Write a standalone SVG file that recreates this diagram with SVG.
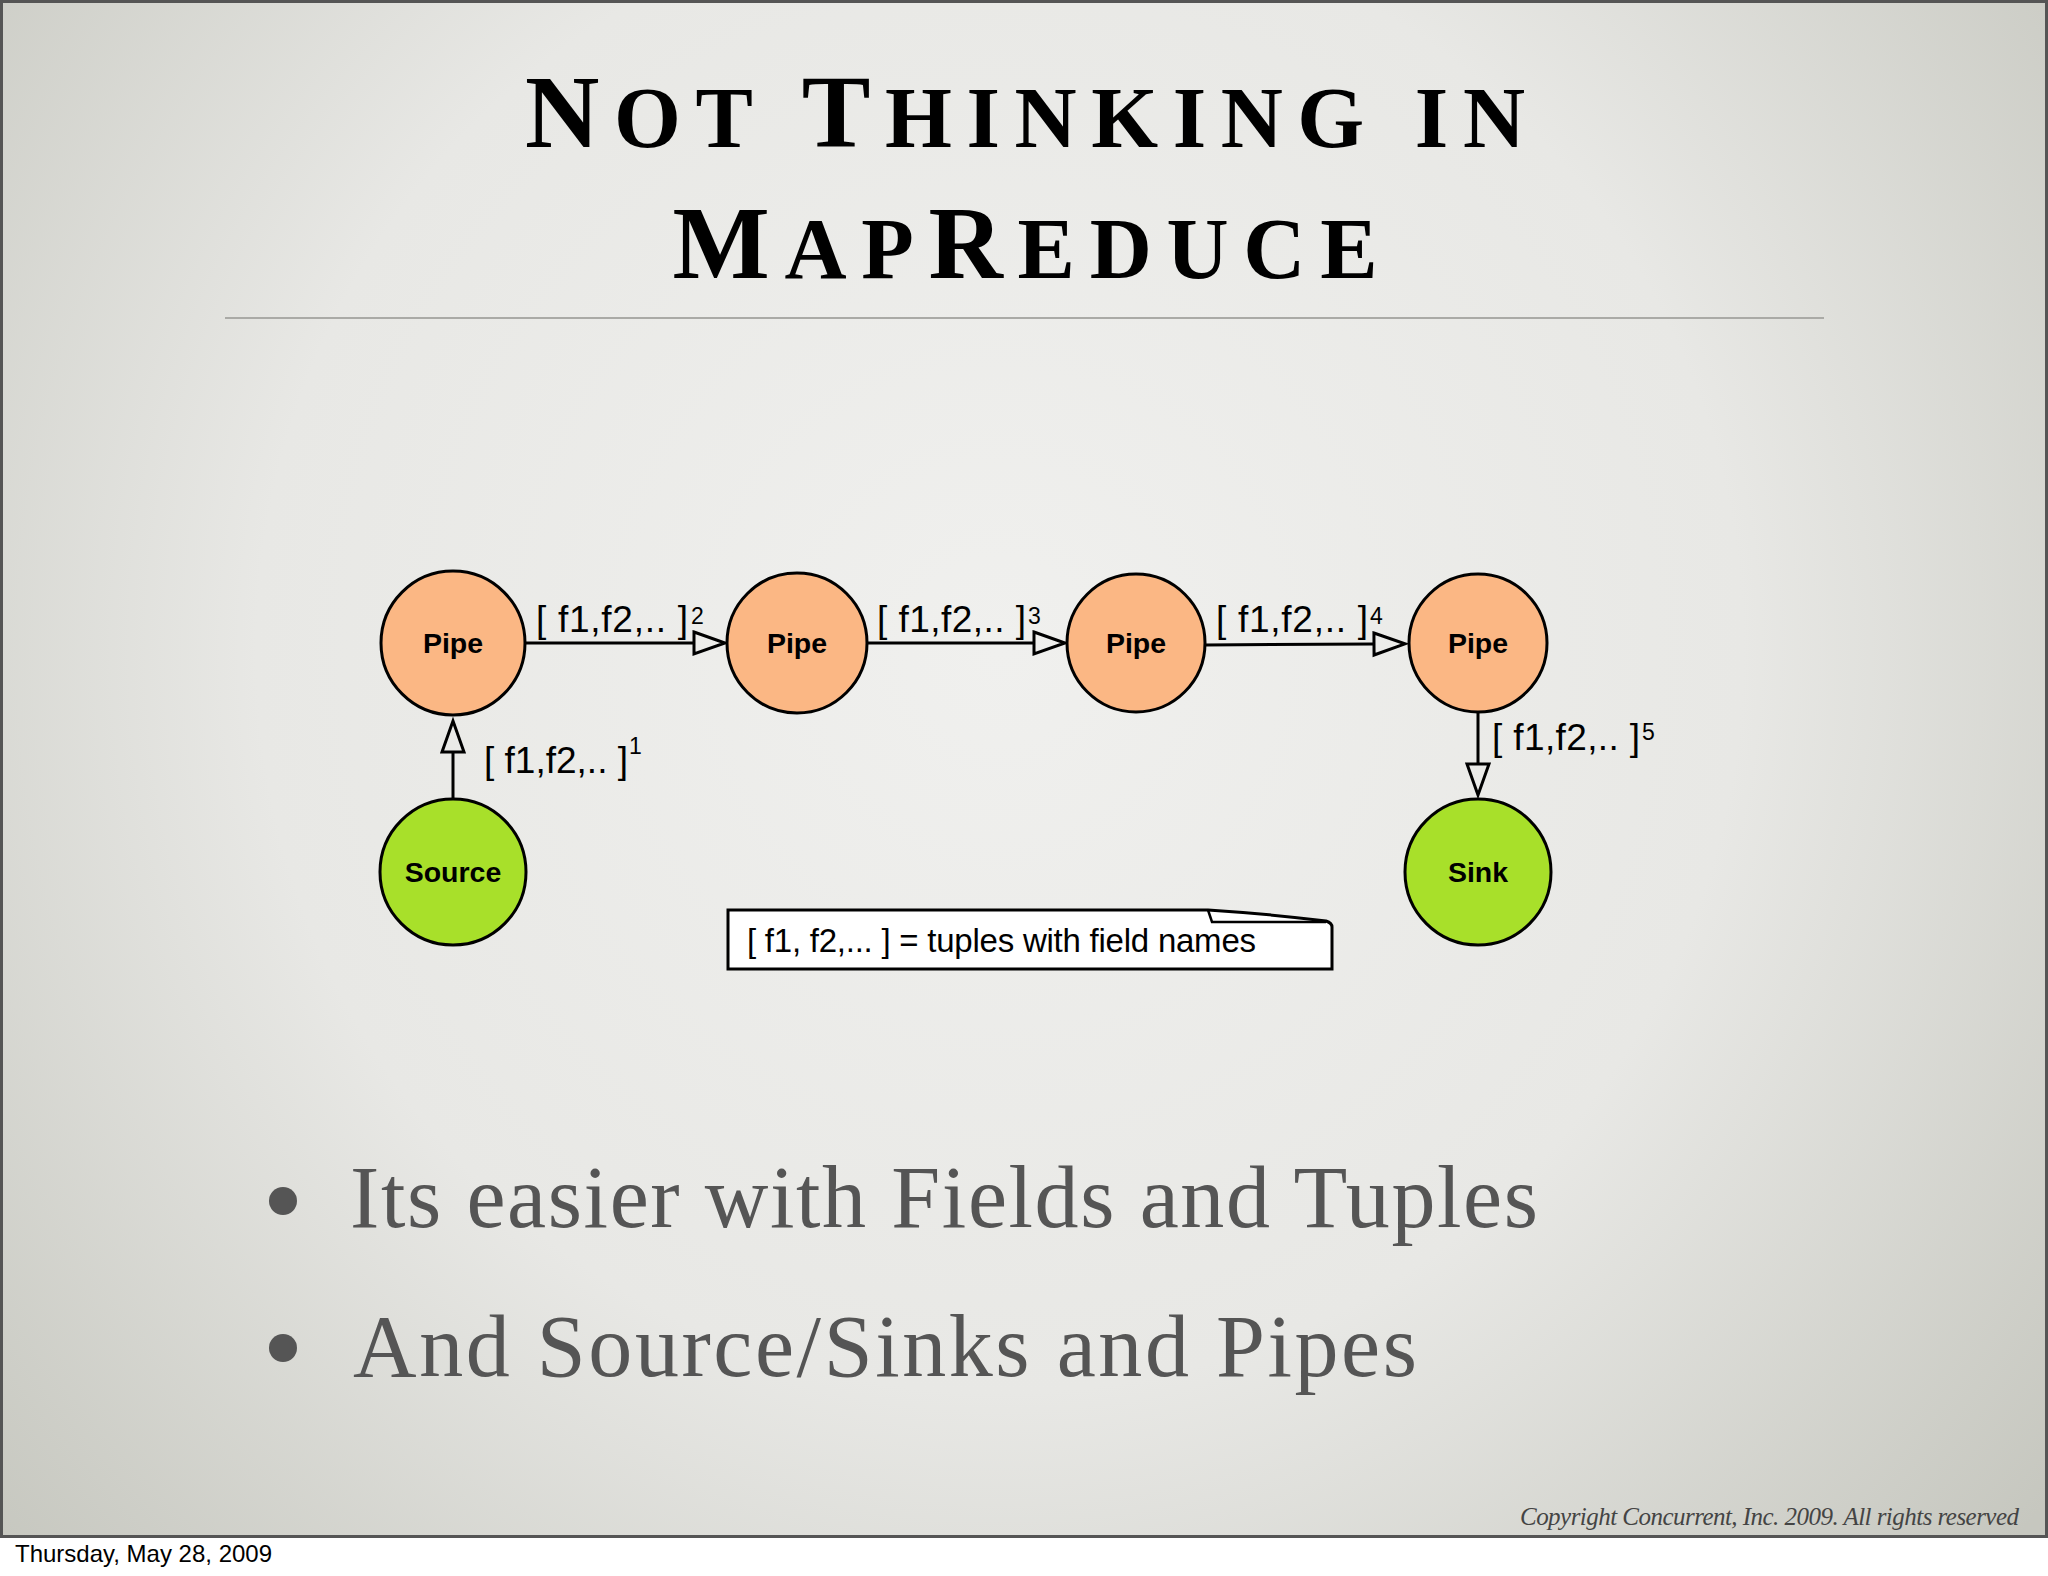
<svg xmlns="http://www.w3.org/2000/svg" width="2048" height="1576" viewBox="0 0 2048 1576">
  <defs>
    <radialGradient id="bg" gradientUnits="userSpaceOnUse" cx="1000" cy="650" r="1350">
      <stop offset="0" stop-color="#f0f0ee"/>
      <stop offset="0.55" stop-color="#e8e8e5"/>
      <stop offset="1" stop-color="#c6c7bf"/>
    </radialGradient>
    <marker id="tri" markerUnits="userSpaceOnUse" markerWidth="40" markerHeight="30" refX="0" refY="12" orient="auto" overflow="visible">
      <path d="M0,1 L31,12 L0,23 Z" fill="none" stroke="#000" stroke-width="3" stroke-linejoin="miter"/>
    </marker>
    <style>
      .title { font-family: "Liberation Serif", serif; font-weight: bold; fill: #000; }
      .node { stroke: #000; stroke-width: 3; }
      .pipe { fill: #fbb784; }
      .end { fill: #a8e02a; }
      .nlabel { font-family: "Liberation Sans", Arial, sans-serif; font-weight: bold; font-size: 28.5px; fill: #000; text-anchor: middle; }
      .elabel { font-family: "Liberation Sans", Arial, sans-serif; font-size: 37px; fill: #000; }
      .legend { font-family: "Liberation Sans", Arial, sans-serif; font-size: 33px; fill: #000; }
      .sup { font-family: "Liberation Sans", Arial, sans-serif; font-size: 23px; fill: #000; }
      .edge { stroke: #000; stroke-width: 3; fill: none; marker-end: url(#tri); }
      .bullet { font-family: "Liberation Serif", serif; font-size: 88px; fill: #555; }
    </style>
  </defs>

  <!-- background -->
  <rect x="0" y="0" width="2048" height="1576" fill="#ffffff"/>
  <rect x="1.5" y="1.5" width="2045" height="1535" fill="url(#bg)" stroke="#555" stroke-width="3"/>

  <!-- title -->
  <text class="title" x="1025" y="147" text-anchor="middle" textLength="1000" lengthAdjust="spacing"><tspan font-size="103">N</tspan><tspan font-size="86">OT </tspan><tspan font-size="103">T</tspan><tspan font-size="86">HINKING IN</tspan></text>
  <text class="title" x="1025" y="278" text-anchor="middle" textLength="705" lengthAdjust="spacing"><tspan font-size="103">M</tspan><tspan font-size="86">AP</tspan><tspan font-size="103">R</tspan><tspan font-size="86">EDUCE</tspan></text>
  <line x1="225" y1="318" x2="1824" y2="318" stroke="#aaaaa6" stroke-width="2"/>

  <!-- connectors -->
  <g id="connectors">
    <line class="edge" x1="453" y1="799" x2="453" y2="752"/>
    <line class="edge" x1="525" y1="643" x2="694" y2="643"/>
    <line class="edge" x1="867" y1="643" x2="1034" y2="643"/>
    <line class="edge" x1="1205" y1="645" x2="1374" y2="644"/>
    <line class="edge" x1="1478" y1="713" x2="1478" y2="764"/>
    <text class="elabel" x="484" y="773" textLength="144" lengthAdjust="spacing">[ f1,f2,.. ]</text><text class="sup" x="629" y="754">1</text>
    <text class="elabel" x="536" y="632" textLength="152" lengthAdjust="spacing">[ f1,f2,.. ]</text><text class="sup" x="691" y="624">2</text>
    <text class="elabel" x="877" y="632" textLength="149" lengthAdjust="spacing">[ f1,f2,.. ]</text><text class="sup" x="1028" y="624">3</text>
    <text class="elabel" x="1216" y="632" textLength="152" lengthAdjust="spacing">[ f1,f2,.. ]</text><text class="sup" x="1370" y="624">4</text>
    <text class="elabel" x="1492" y="750" textLength="148" lengthAdjust="spacing">[ f1,f2,.. ]</text><text class="sup" x="1642" y="740">5</text>
  </g>

  <!-- nodes -->
  <g id="pipe1"><circle class="node pipe" cx="453" cy="643" r="72"/><text class="nlabel" x="453" y="653">Pipe</text></g>
  <g id="pipe2"><circle class="node pipe" cx="797" cy="643" r="70"/><text class="nlabel" x="797" y="653">Pipe</text></g>
  <g id="pipe3"><circle class="node pipe" cx="1136" cy="643" r="69"/><text class="nlabel" x="1136" y="653">Pipe</text></g>
  <g id="pipe4"><circle class="node pipe" cx="1478" cy="643" r="69"/><text class="nlabel" x="1478" y="653">Pipe</text></g>
  <g id="source"><circle class="node end" cx="453" cy="872" r="73"/><text class="nlabel" x="453" y="882">Source</text></g>
  <g id="sink"><circle class="node end" cx="1478" cy="872" r="73"/><text class="nlabel" x="1478" y="882">Sink</text></g>

  <!-- legend note -->
  <g id="legend">
    <path d="M728,910 L1208,910 Q1270,914 1326,921 Q1332,923 1332,927 L1332,969 L728,969 Z" fill="#ffffff" stroke="#000" stroke-width="3"/>
    <path d="M1208,910 L1212,922 L1326,922" fill="none" stroke="#000" stroke-width="2.5"/>
    <text class="legend" x="747" y="952" textLength="509" lengthAdjust="spacing">[ f1, f2,... ] = tuples with field names</text>
  </g>

  <!-- bullets -->
  <circle cx="283" cy="1201" r="14" fill="#555"/>
  <text class="bullet" x="350" y="1227" textLength="1188" lengthAdjust="spacing">Its easier with Fields and Tuples</text>
  <circle cx="283" cy="1348" r="14" fill="#555"/>
  <text class="bullet" x="353" y="1376" textLength="1064" lengthAdjust="spacing">And Source/Sinks and Pipes</text>

  <!-- footer -->
  <text x="2019" y="1525" text-anchor="end" font-family="Liberation Serif, serif" font-style="italic" font-size="25" fill="#444" textLength="499" lengthAdjust="spacing">Copyright Concurrent, Inc. 2009. All rights reserved</text>
  <text x="15" y="1562" font-family="Liberation Sans, Arial, sans-serif" font-size="24" fill="#000">Thursday, May 28, 2009</text>
</svg>
